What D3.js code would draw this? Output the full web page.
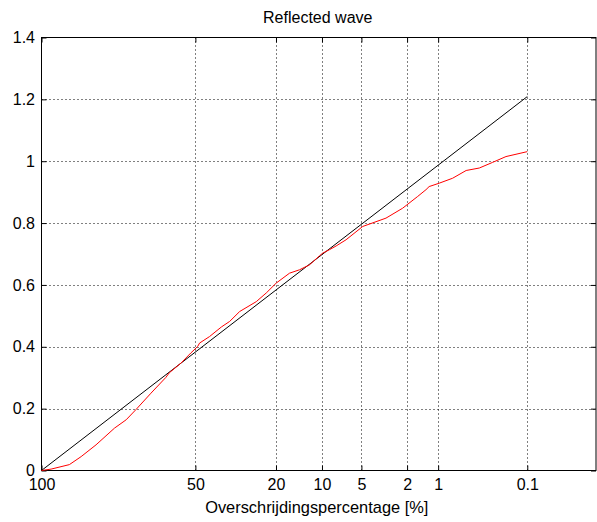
<!DOCTYPE html>
<html>
<head>
<meta charset="utf-8">
<script src="https://cdn.jsdelivr.net/npm/d3@7"></script>
<style>
  body { margin: 0; background: #fff; }
  text { font-family: "Liberation Sans", Arial, sans-serif; fill: #000; }
</style>
</head>
<body>
<svg width="597" height="522"></svg>
<script>
// exceedance percentage ticks on the rayleigh axis
const xTicks = [100, 50, 20, 10, 5, 2, 1, 0.1]
const xTickLabels = ['100', '50', '20', '10', '5', '2', '1', '0.1']
const yTicks = [0, 0.2, 0.4, 0.6, 0.8, 1, 1.2, 1.4]

// measured distribution (red)
const measPct = [100, 99.73, 97.75, 95.5, 91.66, 85.56, 81.07, 77.01, 70.42, 63.58, 61.98, 56.63,
    52.06, 48.97, 48.13, 43.77, 38.8, 35.48, 31.68, 25.92, 22.8, 19.93, 16.52, 14.24, 12.21,
    10.42, 9.86, 8.82, 7.88, 6.62, 4.88, 3.10, 2.20, 1.59, 1.32, 1.23, 0.975, 0.71, 0.51,
    0.366, 0.26, 0.181, 0.1]
const measH = [0, 0.0045, 0.019, 0.045, 0.083, 0.137, 0.164, 0.197, 0.250, 0.301, 0.316, 0.347,
    0.380, 0.401, 0.412, 0.433, 0.464, 0.482, 0.514, 0.546, 0.574, 0.606, 0.638, 0.649, 0.665,
    0.694, 0.703, 0.714, 0.726, 0.746, 0.789, 0.816, 0.848, 0.886, 0.908, 0.918, 0.929, 0.945,
    0.970, 0.978, 0.996, 1.015, 1.031]

// rayleigh distribution (black)
const rayPct = [100, 0.1]
const rayH = [0, 1.209]

const svg = d3.select('svg')
const pLeft = 41.5, pRight = 596, pTop = 37.5, pBottom = 470.5

// reduced variate sqrt(-ln(p))
const red = p => Math.sqrt(-Math.log(p / 100))

const xs = d3.scaleLinear().domain([0, 3]).range([pLeft, pRight])
const y = d3.scaleLinear().domain([0, 1.4]).range([pBottom, pTop])
const x = p => xs(red(p))

// grid
const grid = svg.append('g').attr('class', 'grid')
grid.selectAll('.vg')
    .data(xTicks.slice(1))
    .enter().append('line')
    .attr('x1', d => Math.round(x(d)) + 0.5).attr('x2', d => Math.round(x(d)) + 0.5)
    .attr('y1', pTop).attr('y2', pBottom)
grid.selectAll('.hg')
    .data(yTicks.slice(1, -1))
    .enter().append('line')
    .attr('y1', d => Math.round(y(d)) + 0.5).attr('y2', d => Math.round(y(d)) + 0.5)
    .attr('x1', pLeft).attr('x2', pRight)
grid.selectAll('line')
    .attr('stroke', '#000')
    .attr('stroke-width', 1)
    .attr('stroke-dasharray', '1,3')

const xv = xTicks.map(red)

// axes, ticks inside
svg.append('g')
    .attr('transform', `translate(0,${pBottom})`)
    .call(d3.axisBottom(xs).tickValues(xv).tickFormat((d, i) => xTickLabels[i])
        .tickSize(-5).tickSizeOuter(0).tickPadding(8.5))
svg.append('g')
    .attr('transform', `translate(0,${pTop})`)
    .call(d3.axisTop(xs).tickValues(xv).tickFormat('').tickSize(-5).tickSizeOuter(0))
svg.append('g')
    .attr('transform', `translate(${pLeft},0)`)
    .call(d3.axisLeft(y).tickValues(yTicks).tickFormat(d3.format('~g'))
        .tickSize(-5).tickSizeOuter(0).tickPadding(6.5))
svg.append('g')
    .attr('transform', `translate(${pRight},0)`)
    .call(d3.axisRight(y).tickValues(yTicks).tickFormat('').tickSize(-5).tickSizeOuter(0))

svg.selectAll('.domain').remove()
svg.selectAll('.tick line').attr('stroke', '#000')
svg.selectAll('.tick text').style('font-size', '16px').attr('fill', '#000')

svg.append('rect')
    .attr('x', pLeft).attr('y', pTop)
    .attr('width', pRight - pLeft).attr('height', pBottom - pTop)
    .attr('fill', 'none').attr('stroke', '#000')

const line = d3.line().x(d => x(d[0])).y(d => y(d[1]))

svg.append('path')
    .datum(rayPct.map((p, i) => [p, rayH[i]]))
    .attr('d', line)
    .attr('fill', 'none').attr('stroke', '#000').attr('stroke-width', 1)

svg.append('path')
    .datum(measPct.map((p, i) => [p, measH[i]]))
    .attr('d', line)
    .attr('fill', 'none').attr('stroke', '#ff0000').attr('stroke-width', 1)

svg.append('text')
    .attr('x', (pLeft + pRight) / 2 - 1).attr('y', 23)
    .attr('text-anchor', 'middle')
    .style('font-size', '16px')
    .text('Reflected wave')

svg.append('text')
    .attr('x', (pLeft + pRight) / 2 - 2).attr('y', 513)
    .attr('text-anchor', 'middle')
    .style('font-size', '16.4px')
    .text('Overschrijdingspercentage [%]')
</script>
</body>
</html>
